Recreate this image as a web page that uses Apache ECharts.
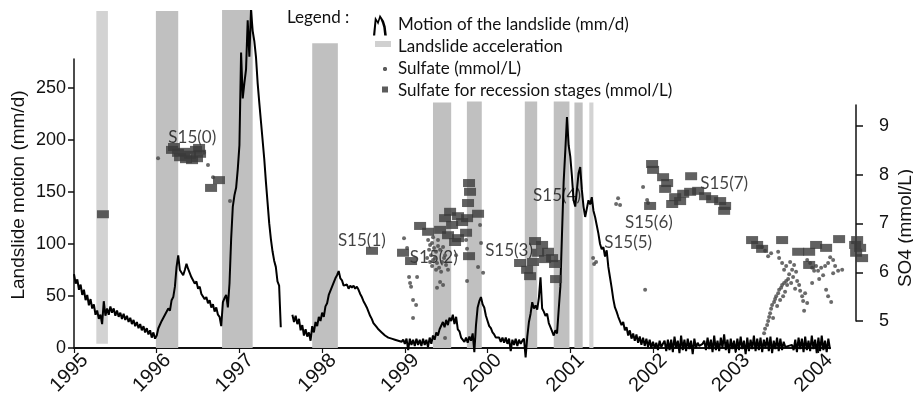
<!DOCTYPE html>
<html>
<head>
<meta charset="utf-8">
<script src="https://cdn.jsdelivr.net/npm/echarts@6/dist/echarts.min.js"></script>
<style>
  html, body { margin: 0; background: #fff; }
  #chart { width: 913px; height: 398px; }
</style>
</head>
<body>
<div id="chart"></div>
<script>
// landslide motion (mm/d), one reading every 0.02 yr from 1995.00
const motionStart = 1995.0
const motionStep = 0.02
const motion = [
  71, 62, 66, 56, 61, 51, 56, 46, 51, 41,
  47, 38, 42, 32, 36, 28, 32, 23, 45, 31,
  38, 32, 40, 34, 38, 31, 36, 30, 34, 28,
  33, 27, 31, 25, 29, 23, 27, 21, 25, 19,
  23, 17, 21, 15, 19, 13, 17, 10, 15, 9,
  12, 19, 18, 26, 25, 32, 31, 38, 36, 46,
  49, 59, 78, 89, 75, 75, 70, 75, 81, 76,
  75, 68, 69, 62, 64, 57, 59, 52, 53, 47,
  49, 43, 46, 39, 42, 35, 39, 32, 30, 21,
  44, 48, 51, 39, 62, 105, 136, 147, 154, 172,
  195, 284, 240, 255, 268, 315, 280, 325, 305, 295,
  280, 255, 236, 218, 200, 182, 160, 140, 120, 105,
  93, 84, 78, 64, 60, 20, null, null, null, null,
  null, null, 32, 25, 31, 23, 28, 17, 22, 12,
  18, 11, 15, 7, 21, 15, 25, 21, 30, 26,
  34, 30, 40, 43, 51, 51, 59, 60, 67, 70,
  74, 67, 65, 60, 59, 61, 57, 60, 58, 60,
  57, 59, 56, 52, 49, 45, 42, 39, 35, 31,
  28, 24, 22, 20, 18, 17, 15, 14, 12, 12,
  10, 11, 9, 10, 8, 9, 7, 8, 6, 8,
  4, 9, -2, 9, 3, 8, 2, 9, 3, 8,
  2, 9, 3, 8, 1, 10, 4, 12, 8, 15,
  12, 18, 18, 25, 20, 27, 22, 29, 26, 32,
  23, 30, 18, 16, 10, 11, 6, 10, 5, 11,
  7, 14, -4, 22, 39, 45, 49, 42, 39, 31,
  26, 21, 19, 15, 13, 10, 9, 10, 6, 10,
  5, 10, 4, 9, -3, 8, 3, 9, 2, 8,
  4, 7, 9, -9, 11, 25, 33, 44, 38, 41,
  37, 48, 68, 38, 35, 31, 33, 24, 20, 16,
  12, 17, 14, 37, 59, 110, 160, 190, 222, 195,
  184, 165, 142, 136, 152, 168, 174, 152, 136, 126,
  134, 142, 138, 145, 132, 126, 118, 110, 100, 95,
  97, 88, 94, 78, 68, 58, 47, 39, 35, 30,
  29, 22, 25, 17, 20, 12, 17, 9, 14, 7,
  13, 5, 11, 3, 10, 2, 9, 1, 8, 0,
  6, 0, 5, -2, 7, 1, 4, 7, -3, 8,
  -2, 8, -4, 11, 0, 7, -5, 12, -2, 8,
  -3, 9, -1, 7, -6, 9, 0, 5, 2, 3,
  4, 7, -2, 10, -1, 8, -4, 12, -2, 7,
  -3, 10, 0, 13, -2, 8, -5, 9, -1, 7,
  -4, 9, -2, 11, -1, 7, -6, 10, -3, 8,
  -1, 12, -3, 9, -2, 10, -4, 8, 0, 10,
  -3, 11, -5, 7, -1, 10, -3, 9, -2, 6,
  1, 2, 2, 1, 3, -2, 8, -4, 10, -1,
  9, -4, 11, -2, 7, -3, 12, -1, 8, -5,
  10, -3, 12, -2, 7, -4, 9, -1
]

// landslide acceleration periods (years) and their extent (mm/d)
const bandFrom = [1995.27, 1995.99, 1996.79, 1997.88, 1999.34, 1999.75, 2000.45, 2000.80, 2001.05, 2001.23]
const bandTo   = [1995.41, 1996.26, 1997.16, 1998.19, 1999.56, 1999.93, 2000.60, 2000.99, 2001.15, 2001.28]
const bandLow  = [4, 0, 0, 0, 0, 0, 0, 0, 0, 0]
const bandHigh = [324, 324, 325, 293, 236, 237, 237, 237, 236, 236]
const bandKind = ['weak', 'strong', 'strong', 'strong', 'strong', 'strong', 'strong', 'strong', 'strong', 'weak']

// sulfate samples (mmol/L)
const sulfate = [
  [1996.016, 8.34], [1996.572, 8.45], [1996.620, 8.20], [1996.681, 7.95], [1996.886, 7.46],
  [1998.990, 6.70], [1999.027, 6.50], [1999.051, 5.90], [1999.148, 5.90], [1999.063, 5.78],
  [1999.075, 5.70], [1999.099, 5.43], [1999.136, 5.33], [1999.099, 5.06],
  [1999.281, 6.66], [1999.305, 6.56], [1999.293, 6.46], [1999.329, 6.60], [1999.353, 6.50],
  [1999.317, 6.35], [1999.341, 6.25], [1999.377, 6.42], [1999.365, 6.29], [1999.401, 6.54],
  [1999.426, 6.46], [1999.389, 6.19], [1999.329, 6.13], [1999.414, 6.09], [1999.450, 6.21],
  [1999.474, 6.29], [1999.498, 6.15], [1999.522, 6.05], [1999.438, 6.01], [1999.377, 6.05],
  [1999.305, 6.21], [1999.269, 6.29], [1999.486, 6.35], [1999.341, 6.72], [1999.401, 6.66],
  [1999.462, 6.52], [1999.426, 5.80], [1999.389, 5.68], [1999.462, 5.74], [1999.486, 4.65],
  [1999.619, 6.35], [1999.740, 6.66], [1999.752, 6.48], [1999.909, 6.97], [1999.921, 6.60],
  [1999.885, 6.11], [1999.946, 5.99], [1999.752, 5.82],
  [2001.276, 6.29], [2001.312, 6.21], [2001.288, 6.17],
  [2001.578, 7.52], [2001.554, 7.40], [2001.602, 7.38], [2001.880, 7.75], [2001.929, 7.48],
  [2001.941, 7.42], [2001.905, 5.64],
  [2003.343, 4.75], [2003.355, 4.84], [2003.380, 4.92], [2003.392, 5.00], [2003.404, 5.08],
  [2003.416, 5.16], [2003.428, 5.25], [2003.440, 5.33], [2003.464, 5.39], [2003.476, 5.45],
  [2003.489, 5.51], [2003.513, 5.57], [2003.525, 5.64], [2003.549, 5.68], [2003.561, 5.74],
  [2003.585, 5.78], [2003.610, 5.82], [2003.622, 5.74], [2003.597, 5.60], [2003.573, 5.51],
  [2003.537, 5.43], [2003.501, 5.31], [2003.452, 5.06],
  [2003.319, 6.52], [2003.355, 6.44], [2003.392, 6.33], [2003.428, 6.39], [2003.513, 6.42],
  [2003.525, 6.29], [2003.561, 6.19], [2003.585, 6.05], [2003.610, 6.13], [2003.646, 5.96],
  [2003.658, 6.21], [2003.682, 6.05], [2003.706, 6.15], [2003.730, 6.01], [2003.694, 5.90],
  [2003.743, 5.82], [2003.767, 5.74], [2003.718, 5.66], [2003.779, 5.62], [2003.803, 5.51],
  [2003.815, 5.41], [2003.839, 5.57], [2003.864, 5.37], [2003.827, 5.21], [2003.670, 5.78],
  [2003.634, 5.86],
  [2003.864, 6.25], [2003.900, 6.19], [2003.924, 6.09], [2003.948, 6.03], [2003.972, 6.13],
  [2003.996, 6.03], [2004.033, 6.09], [2004.057, 5.94], [2004.081, 6.13], [2004.117, 6.19],
  [2004.142, 6.31], [2004.178, 6.25], [2004.202, 6.13], [2004.238, 6.03], [2004.178, 5.98],
  [2004.093, 5.64], [2004.117, 5.51], [2004.154, 5.39], [2004.287, 6.05], [2004.009, 5.86],
  [2003.924, 5.78]
]

// sulfate for recession stages (mmol/L)
const recession = [
  [1995.35, 7.19],
  [1996.185, 8.51], [1996.258, 8.45], [1996.330, 8.47], [1996.403, 8.41], [1996.475, 8.51],
  [1996.524, 8.43], [1996.354, 8.32], [1996.427, 8.30], [1996.282, 8.36], [1996.487, 8.34],
  [1996.209, 8.57], [1996.512, 8.55], [1996.753, 7.89], [1996.657, 7.73],
  [1998.603, 6.44],
  [1998.978, 6.40], [1999.075, 6.23], [1999.184, 6.95], [1999.281, 6.83],
  [1999.486, 7.11], [1999.571, 6.97], [1999.643, 7.15], [1999.522, 6.76], [1999.643, 6.70],
  [1999.740, 6.81], [1999.426, 6.87], [1999.547, 7.24], [1999.607, 6.62], [1999.692, 7.03],
  [1999.776, 7.83], [1999.788, 7.65], [1999.764, 7.42], [1999.752, 7.11], [1999.885, 7.20],
  [1999.776, 6.33],
  [2000.574, 6.64], [2000.659, 6.56], [2000.731, 6.42], [2000.780, 6.29], [2000.816, 6.17],
  [2000.828, 5.86], [2000.393, 6.19], [2000.478, 6.05], [2000.514, 5.92], [2000.611, 6.40],
  [2000.695, 6.27], [2000.550, 6.21],
  [2001.989, 8.22], [2002.001, 8.10], [2002.122, 7.95], [2002.171, 7.83], [2002.147, 7.71],
  [2002.268, 7.54], [2002.232, 7.40], [2002.365, 7.61], [2002.461, 7.97], [2002.449, 7.65],
  [2002.546, 7.67], [2002.630, 7.56], [2002.715, 7.50], [2002.812, 7.46], [2002.872, 7.36],
  [2002.860, 7.26], [2001.965, 7.36], [2002.328, 7.46],
  [2003.198, 6.66], [2003.259, 6.56], [2003.319, 6.48], [2003.561, 6.66], [2003.755, 6.42],
  [2003.888, 6.42], [2003.888, 6.15], [2003.972, 6.56], [2004.093, 6.50], [2004.250, 6.68],
  [2004.468, 6.66], [2004.504, 6.50], [2004.456, 6.40], [2004.528, 6.29], [2004.444, 6.56]
]

// recession stage labels, placed on the SO4 scale
const stageNames = ['S15(0)', 'S15(1)', 'S15(2)', 'S15(3)', 'S15(4)', 'S15(5)', 'S15(6)', 'S15(7)']
const stageYears = [1996.43, 1998.48, 1999.35, 2000.26, 2000.84, 2001.70, 2001.95, 2002.86]
const stageSO4   = [8.77, 6.66, 6.31, 6.44, 7.58, 6.60, 7.03, 7.83]

const yearTicks = [1995, 1996, 1997, 1998, 1999, 2000, 2001, 2002, 2003, 2004]
const motionTicks = [0, 50, 100, 150, 200, 250]
const so4Ticks = [5, 6, 7, 8, 9]

const ink = '#111'
const axisFont = '"Liberation Sans", Arial, sans-serif'
const textFont = 'Lato, "Open Sans", sans-serif'

const chart = echarts.init(document.getElementById('chart'))

const motionData = motion.map((v, i) => [+(motionStart + i * motionStep).toFixed(2), v])
const bands = bandFrom.map((a, i) => [
  { coord: [a, bandLow[i]], itemStyle: { color: bandKind[i] === 'weak' ? '#d3d3d3' : '#c0c0c0', opacity: 1 } },
  { coord: [bandTo[i], bandHigh[i]] }
])
const stages = stageNames.map((n, i) => ({ name: n, value: [stageYears[i], stageSO4[i]] }))

const axisStroke = { color: ink, width: 1.5 }

chart.setOption({
  animation: false,
  backgroundColor: '#fff',
  // 0: plot, 1: motion scale, 2: SO4 scale, 3: year labels
  grid: [
    { left: 74, top: 10, width: 756, height: 338 },
    { left: 74, top: 59, width: 10, height: 289 },
    { left: 856, top: 105, width: 10, height: 216 },
    { left: 85, top: 10, width: 756, height: 338 }
  ],
  xAxis: [
    {
      gridIndex: 0, type: 'value', min: 1995, max: 2004.14,
      axisLine: { lineStyle: { color: ink, width: 2 } },
      axisTick: { show: true, customValues: yearTicks, length: 5, lineStyle: { color: ink, width: 1.2 } },
      axisLabel: { show: false },
      splitLine: { show: false }
    },
    { gridIndex: 1, type: 'value', show: false },
    { gridIndex: 2, type: 'value', show: false },
    {
      gridIndex: 3, type: 'value', min: 1995, max: 2004.14,
      axisLine: { show: false },
      axisTick: { show: false },
      axisLabel: {
        customValues: yearTicks, rotate: 45, margin: 12,
        formatter: v => String(v),
        fontFamily: axisFont, fontSize: 20, color: ink
      },
      splitLine: { show: false }
    }
  ],
  yAxis: [
    { gridIndex: 0, type: 'value', min: 0, max: 325, show: false },
    { gridIndex: 0, type: 'value', min: 4.446, max: 11.38, show: false },
    {
      gridIndex: 1, type: 'value', position: 'left', min: 0, max: 277.9,
      axisLine: { show: true, lineStyle: axisStroke },
      axisTick: { show: true, customValues: motionTicks, length: 6, lineStyle: axisStroke },
      axisLabel: { customValues: motionTicks, margin: 8, fontFamily: axisFont, fontSize: 18, color: ink },
      splitLine: { show: false }
    },
    {
      gridIndex: 2, type: 'value', position: 'right', min: 5, max: 9.431,
      axisLine: { show: true, lineStyle: axisStroke },
      axisTick: { show: true, customValues: so4Ticks, length: 7, lineStyle: axisStroke },
      axisLabel: { customValues: so4Ticks, margin: 13, fontFamily: axisFont, fontSize: 18, color: ink },
      splitLine: { show: false }
    },
    { gridIndex: 3, type: 'value', show: false }
  ],
  legend: {
    orient: 'vertical', left: 368, top: 9,
    itemWidth: 20, itemHeight: 22, itemGap: 0,
    selectedMode: false,
    itemStyle: { borderWidth: 0 },
    textStyle: { fontFamily: textFont, fontSize: 17, color: ink },
    data: [
      { name: 'Motion of the landslide (mm/d)', icon: 'path://M0,0M20,22M0,21.5L2,2.5L4.8,7L6.8,0.5L11,7L12.7,12.5L13.8,21.5L11.2,21.5L10.3,13.5L9,9L7.2,4.5L5.2,11L3.4,7.5L2.2,21.5Z', itemStyle: { color: '#000' } },
      { name: 'Landslide acceleration', icon: 'path://M0,0M20,22M2,5h16v6H2Z', itemStyle: { color: '#c4c4c4' } },
      { name: 'Sulfate (mmol/L)', icon: 'path://M0,0M20,22M11,9h2l1,1v2l-1,1h-2l-1,-1v-2Z', itemStyle: { color: '#333' } },
      { name: 'Sulfate for recession stages (mmol/L)', icon: 'path://M0,0M20,22M9,6.5h6v6h-6Z', itemStyle: { color: '#333' } }
    ]
  },
  graphic: [
    { type: 'text', x: 287, y: 18, style: { text: 'Legend :', fontFamily: textFont, fontSize: 17, fill: ink, verticalAlign: 'middle' } },
    { type: 'text', x: 19, y: 195, rotation: Math.PI / 2, style: { text: 'Landslide motion (mm/d)', fontFamily: axisFont, fontSize: 19, fill: ink, align: 'center', verticalAlign: 'middle' } },
    { type: 'text', x: 906, y: 228, rotation: Math.PI / 2, style: { text: 'SO4 (mmol/L)', fontFamily: axisFont, fontSize: 19, fill: ink, align: 'center', verticalAlign: 'middle' } }
  ],
  series: [
    {
      name: 'Motion of the landslide (mm/d)', type: 'line',
      xAxisIndex: 0, yAxisIndex: 0,
      data: motionData,
      showSymbol: false, symbol: 'none', clip: false,
      color: '#000',
      lineStyle: { color: '#000', width: 2 },
      z: 2,
      markArea: { silent: true, data: bands }
    },
    { name: 'Landslide acceleration', type: 'scatter', xAxisIndex: 0, yAxisIndex: 0, data: [], color: '#c4c4c4' },
    {
      name: 'Sulfate (mmol/L)', type: 'scatter',
      xAxisIndex: 0, yAxisIndex: 1,
      data: sulfate, symbolSize: 4, clip: false,
      color: '#454545', z: 3
    },
    {
      name: 'Sulfate for recession stages (mmol/L)', type: 'scatter',
      xAxisIndex: 0, yAxisIndex: 1,
      data: recession, symbol: 'rect', symbolSize: [12, 8], clip: false,
      color: '#3a3a3a', z: 3
    },
    {
      name: 'stages', type: 'scatter',
      xAxisIndex: 0, yAxisIndex: 1,
      data: stages, symbolSize: 1, silent: true,
      itemStyle: { color: 'transparent' },
      label: { show: true, position: 'inside', formatter: p => p.name, fontFamily: textFont, fontSize: 17, color: ink },
      z: 1.5
    }
  ]
})
</script>
</body>
</html>
